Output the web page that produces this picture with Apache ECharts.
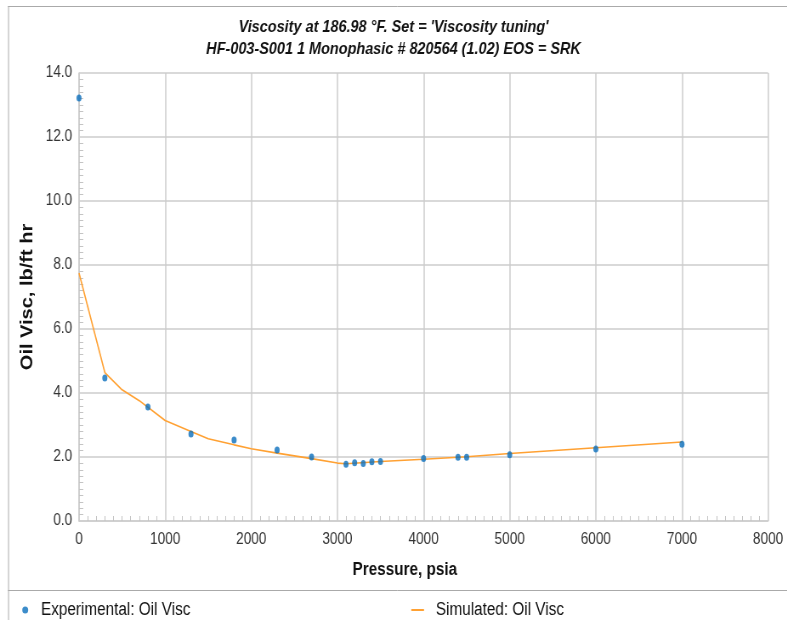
<!DOCTYPE html>
<html>
<head>
<meta charset="utf-8">
<script src="https://cdn.jsdelivr.net/npm/echarts@6/dist/echarts.min.js"></script>
<style>
  html, body { margin: 0; padding: 0; background: #fff; overflow: hidden; width: 787px; height: 620px; }
  /* the source chart's lettering is condensed, so draw wider and squeeze horizontally */
  #chart { width: 926px; height: 620px; transform: scaleX(0.85); transform-origin: 0 0; }
</style>
</head>
<body>
<div id="chart"></div>
<script>
// experimental points (pressure psia, oil visc lb/ft hr)
const expPressure = [0, 300, 800, 1300, 1800, 2300, 2700, 3100, 3200, 3300, 3400, 3500, 4000, 4400, 4500, 5000, 6000, 7000]
const expVisc = [13.22, 4.47, 3.56, 2.72, 2.53, 2.22, 2.0, 1.77, 1.82, 1.8, 1.85, 1.86, 1.95, 1.99, 1.99, 2.07, 2.25, 2.4]

// simulated curve
const simPressure = [0, 300, 500, 700, 1000, 1300, 1500, 1800, 2000, 2300, 2700, 3000, 3100, 3500, 4000, 4500, 5000, 6000, 7000]
const simVisc = [7.75, 4.64, 4.1, 3.76, 3.14, 2.8, 2.57, 2.38, 2.26, 2.12, 1.95, 1.81, 1.79, 1.86, 1.93, 2.01, 2.11, 2.29, 2.47]

const titleLines = ["Viscosity at 186.98 °F. Set = 'Viscosity tuning'", 'HF-003-S001 1 Monophasic # 820564 (1.02) EOS = SRK']

const font = '"Liberation Sans", Arial, sans-serif'
const gridColor = '#cdcdcd'
const sx = 0.85 // horizontal squeeze applied by css

const chart = echarts.init(document.getElementById('chart'))

chart.setOption({
  animation: false,
  textStyle: { fontFamily: font },
  title: {
    text: titleLines.join('\n'),
    left: 'center',
    top: 11,
    textStyle: {
      fontFamily: font,
      fontSize: 17,
      fontStyle: 'italic',
      fontWeight: 'bold',
      color: '#111',
      lineHeight: 22,
    },
  },
  legend: [
    {
      data: ['Experimental: Oil Visc'],
      left: 18 / sx,
      top: 596,
      icon: 'circle',
      itemWidth: 7,
      itemHeight: 8,
      textStyle: { fontFamily: font, fontSize: 18, color: '#111', padding: [0, 0, 0, 10] },
    },
    {
      data: ['Simulated: Oil Visc'],
      left: 407 / sx,
      top: 596,
      icon: 'rect',
      itemWidth: 15,
      itemHeight: 2,
      textStyle: { fontFamily: font, fontSize: 18, color: '#111', padding: [0, 0, 0, 9] },
    },
  ],
  grid: { left: 79 / sx, right: 19 / sx, top: 73, bottom: 99 },
  xAxis: {
    type: 'value',
    min: 0,
    max: 8000,
    interval: 1000,
    name: 'Pressure, psia',
    nameLocation: 'middle',
    nameGap: 40,
    nameTextStyle: { fontSize: 18, fontWeight: 'bold', color: '#111', padding: [0, 44, 0, 0] },
    axisLine: { show: true, lineStyle: { color: gridColor, width: 1.5 } },
    axisTick: { show: false, inside: true },
    minorTick: { show: true, splitNumber: 10, length: 5, lineStyle: { color: '#c4c4c4' } },
    axisLabel: { fontSize: 16, color: '#333', margin: 11, formatter: v => String(v) },
    splitLine: { show: true, lineStyle: { color: gridColor, width: 1.5 } },
  },
  yAxis: {
    type: 'value',
    min: 0,
    max: 14,
    interval: 2,
    name: 'Oil Visc, lb/ft hr',
    nameLocation: 'middle',
    nameGap: 50,
    nameTextStyle: { fontSize: 20, fontWeight: 'bold', color: '#111' },
    axisLine: { show: true, lineStyle: { color: gridColor, width: 1.5 } },
    axisTick: { show: false, inside: true },
    minorTick: { show: true, splitNumber: 10, length: 5, lineStyle: { color: '#c4c4c4' } },
    axisLabel: { fontSize: 16, color: '#333', margin: 8, formatter: v => v.toFixed(1) },
    splitLine: { show: true, lineStyle: { color: gridColor, width: 1.5 } },
  },
  graphic: [
    { type: 'line', shape: { x1: 8.5 / sx, y1: 6, x2: 8.5 / sx, y2: 620 }, style: { stroke: '#aaa', lineWidth: 1 }, silent: true },
    { type: 'line', shape: { x1: 8 / sx, y1: 6.5, x2: 926, y2: 6.5 }, style: { stroke: '#aaa', lineWidth: 1 }, silent: true },
    { type: 'line', shape: { x1: 8 / sx, y1: 590.5, x2: 926, y2: 590.5 }, style: { stroke: '#aaa', lineWidth: 1 }, silent: true },
  ],
  series: [
    {
      name: 'Simulated: Oil Visc',
      type: 'line',
      data: simPressure.map((p, i) => [p, simVisc[i]]),
      showSymbol: false,
      symbol: 'none',
      itemStyle: { color: '#ffa133' },
      lineStyle: { color: '#ffa133', width: 1.6 },
      z: 2,
    },
    {
      name: 'Experimental: Oil Visc',
      type: 'scatter',
      data: expPressure.map((p, i) => [p, expVisc[i]]),
      symbol: 'circle',
      symbolSize: [6, 7],
      itemStyle: { color: '#0b6fbd' },
      z: 3,
    },
  ],
})
</script>
</body>
</html>
